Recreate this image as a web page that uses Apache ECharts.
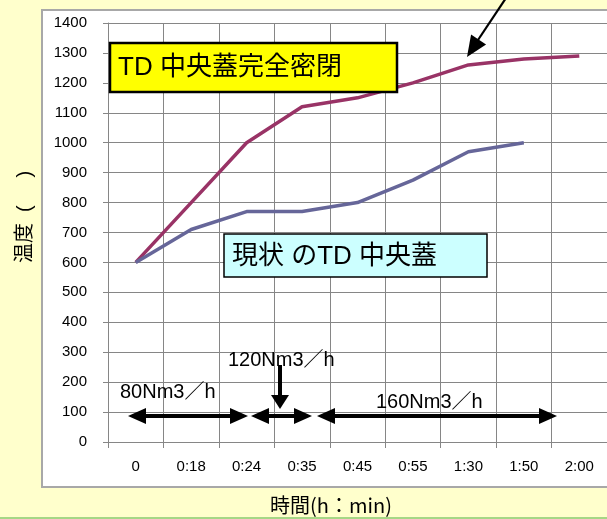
<!DOCTYPE html>
<html>
<head>
<meta charset="utf-8">
<script src="https://cdn.jsdelivr.net/npm/echarts@6/dist/echarts.min.js"></script>
<style>
  html, body { margin: 0; padding: 0; background: #FFFFCC; }
  #chart { width: 607px; height: 519px; }
</style>
</head>
<body>
<div id="chart"></div>
<script>
// Elapsed time (h:min) categories
const timeLabels = ['0', '0:18', '0:24', '0:35', '0:45', '0:55', '1:30', '1:50', '2:00'];
// Temperature with the TD centre lid fully sealed
const sealedTemps = [600, 800, 1000, 1120, 1150, 1200, 1260, 1280, 1290];
// Temperature with the current TD centre lid
const currentTemps = [600, 710, 770, 770, 800, 875, 970, 1000];
// Temperature axis range
const tempMin = 0, tempMax = 1400, tempStep = 100;
// Gas flow stages
const flowLabels = ['80Nm3／h', '120Nm3／h', '160Nm3／h'];

const FONT_LATIN = '"Liberation Sans", Arial, sans-serif';
const FONT_MIXED = '"Liberation Sans", "Noto Sans CJK JP", sans-serif';
const FONT_CJK = '"Noto Sans CJK JP", "Noto Sans", sans-serif';

const chart = echarts.init(document.getElementById('chart'), null, { renderer: 'canvas' });

// Filled triangular arrow head pointing from (fx,fy) towards tip (tx,ty)
function head(tx, ty, fx, fy, len, half) {
  const dx = tx - fx, dy = ty - fy;
  const d = Math.hypot(dx, dy);
  const ux = dx / d, uy = dy / d;
  const bx = tx - ux * len, by = ty - uy * len;
  return {
    type: 'polygon', z: 120,
    shape: { points: [[tx, ty], [bx - uy * half, by + ux * half], [bx + uy * half, by - ux * half]] },
    style: { fill: '#000' }
  };
}
function shaft(x1, y1, x2, y2, w) {
  return { type: 'line', z: 120, shape: { x1, y1, x2, y2 }, style: { stroke: '#000', lineWidth: w } };
}
function doubleArrow(x1, x2, y) {
  return [shaft(x1 + 10, y, x2 - 10, y, 4), head(x1, y, x2, y, 18, 8), head(x2, y, x1, y, 18, 8)];
}
function label(text, x, y, size, font) {
  return {
    type: 'text', z: 130, x, y,
    style: { text, fill: '#000', font: size + 'px ' + font, textAlign: 'left', textVerticalAlign: 'middle' }
  };
}

const graphics = [
  // white chart panel
  { type: 'rect', z: -10, shape: { x: 42, y: 10, width: 600, height: 477 },
    style: { fill: '#FFFFFF', stroke: '#A8A8A8', lineWidth: 2 } },
  // bottom green rule
  { type: 'line', z: -10, shape: { x1: 0, y1: 518, x2: 607, y2: 518 }, style: { stroke: '#A6D785', lineWidth: 2 } },
  // axis titles
  { type: 'text', z: 130, x: 25, y: 263, rotation: Math.PI / 2,
    style: { text: '温度  (     )', fill: '#000', font: '20px ' + FONT_MIXED, textAlign: 'left', textVerticalAlign: 'middle' } },
  { type: 'text', z: 130, x: 331, y: 505,
    style: { text: '時間(h：min)', fill: '#000', font: '20px ' + FONT_CJK, textAlign: 'center', textVerticalAlign: 'middle' } },
  // callout boxes
  { type: 'rect', z: 110, shape: { x: 110, y: 43, width: 287, height: 49 },
    style: { fill: '#FFFF00', stroke: '#000', lineWidth: 2.5 } },
  label('TD 中央蓋完全密閉', 118, 68, 26, FONT_MIXED),
  { type: 'rect', z: 110, shape: { x: 224, y: 234, width: 263, height: 43 },
    style: { fill: '#CCFFFF', stroke: '#000', lineWidth: 1.5 } },
  label('現状 のTD 中央蓋', 232, 257, 26, FONT_MIXED),
  // pointer to the sealed curve
  shaft(506, -2, 474, 46, 2.2), head(467, 57, 506, -2, 21, 9),
  // flow stage arrows and labels
  ...doubleArrow(128, 248, 416),
  ...doubleArrow(251, 312, 416),
  ...doubleArrow(317, 557, 416),
  shaft(280, 365, 280, 398, 4), head(280, 409, 280, 365, 14, 9),
  label(flowLabels[0], 120, 392, 20, FONT_MIXED),
  label(flowLabels[1], 228, 360, 20, FONT_MIXED),
  label(flowLabels[2], 376, 402, 20, FONT_MIXED)
];

const gridColor = '#868686';

chart.setOption({
  animation: false,
  backgroundColor: '#FFFFCC',
  textStyle: { fontFamily: FONT_LATIN },
  grid: { left: 108, top: 23, width: 515, height: 419, containLabel: false },
  xAxis: {
    type: 'category',
    data: timeLabels,
    boundaryGap: true,
    axisLine: { show: true, lineStyle: { color: gridColor, width: 1 } },
    axisTick: { show: true, length: 6, lineStyle: { color: gridColor } },
    axisLabel: { interval: 0, margin: 17, fontSize: 15, color: '#000', fontFamily: FONT_LATIN },
    splitLine: { show: true, interval: 0, lineStyle: { color: gridColor, width: 1 } }
  },
  yAxis: {
    type: 'value',
    min: tempMin,
    max: tempMax,
    interval: tempStep,
    axisLine: { show: true, lineStyle: { color: gridColor, width: 1 } },
    axisTick: { show: true, length: 5, lineStyle: { color: gridColor } },
    axisLabel: { margin: 21, fontSize: 15, color: '#000', fontFamily: FONT_LATIN,
                 formatter: v => String(v) },
    splitLine: { show: true, lineStyle: { color: gridColor, width: 1 } }
  },
  series: [
    {
      name: 'TD 中央蓋完全密閉',
      type: 'line',
      data: sealedTemps,
      showSymbol: false,
      symbol: 'none',
      lineStyle: { color: '#993366', width: 3.5 },
      itemStyle: { color: '#993366' }
    },
    {
      name: '現状 のTD 中央蓋',
      type: 'line',
      data: currentTemps,
      showSymbol: false,
      symbol: 'none',
      lineStyle: { color: '#666699', width: 3.5 },
      itemStyle: { color: '#666699' }
    }
  ],
  graphic: { elements: graphics }
});
</script>
</body>
</html>
